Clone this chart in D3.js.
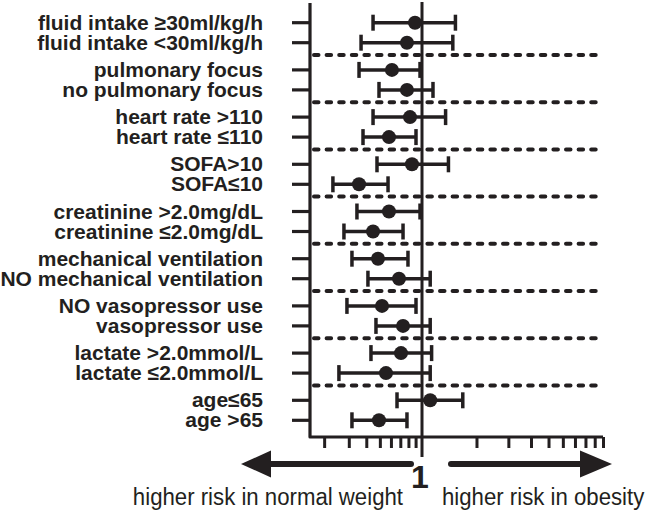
<!DOCTYPE html>
<html>
<head>
<meta charset="utf-8">
<script src="https://cdn.jsdelivr.net/npm/d3@7"></script>
<style>
  body { margin: 0; background: #fff; }
  svg { display: block; font-family: Arial, "Liberation Sans", Helvetica, sans-serif; }
</style>
</head>
<body>
<svg width="645" height="512"></svg>
<script>
// subgroups, two per group, top to bottom
const labels = [
  "fluid intake ≥30ml/kg/h", "fluid intake <30ml/kg/h",
  "pulmonary focus", "no pulmonary focus",
  "heart rate >110", "heart rate ≤110",
  "SOFA>10", "SOFA≤10",
  "creatinine >2.0mg/dL", "creatinine ≤2.0mg/dL",
  "mechanical ventilation", "NO mechanical ventilation",
  "NO vasopressor use", "vasopressor use",
  "lactate >2.0mmol/L", "lactate ≤2.0mmol/L",
  "age≤65", "age >65"
];
// odds ratio and 95% CI
const estimate = [0.891, 0.781, 0.61, 0.781, 0.821, 0.581, 0.848, 0.355, 0.581,
  0.447, 0.485, 0.685, 0.518, 0.732, 0.708, 0.553, 1.11, 0.493];
const lower = [0.447, 0.367, 0.355, 0.493, 0.447, 0.379, 0.477, 0.231, 0.343,
  0.277, 0.316, 0.411, 0.291, 0.469, 0.432, 0.255, 0.663, 0.316];
const upper = [1.53, 1.48, 0.968, 1.15, 1.35, 0.906, 1.40, 0.572, 0.968,
  0.732, 0.794, 1.11, 0.906, 1.11, 1.13, 1.11, 1.68, 0.781];
const minorTicks = [0.2, 0.3, 0.4, 0.5, 0.6, 0.7, 0.8, 0.9, 2, 3, 4, 5, 6, 7, 8, 9, 10];

const svg = d3.select("svg");
const ink = "#231f20";

// log scale, left and right decades drawn at different widths
const x = d3.scaleLog().domain([0.1, 1, 10]).range([282, 422, 603]);
const axisLeftX = 310, axisBottomY = 437;

// rows: 9 groups of 2
const yGroup = d3.scaleLinear().domain([0, 8]).range([22.7, 400.3]);
const rows = labels.map((name, i) => ({
  name, est: estimate[i], lo: lower[i], hi: upper[i],
  y: yGroup(Math.floor(i / 2)) + (i % 2) * 20
}));

// dashed separators between groups
svg.append("g")
  .selectAll("line")
  .data(d3.range(8))
  .join("line")
  .attr("x1", axisLeftX + 4).attr("x2", 597)
  .attr("y1", g => yGroup(g) + 32.3).attr("y2", g => yGroup(g) + 32.3)
  .attr("stroke", ink).attr("stroke-width", 4)
  .attr("stroke-linecap", "round")
  .attr("stroke-dasharray", "4.5,8.1");

// reference line at 1
svg.append("line")
  .attr("x1", x(1)).attr("x2", x(1))
  .attr("y1", 2).attr("y2", 457)
  .attr("stroke", ink).attr("stroke-width", 3);

// bottom axis minor ticks
const xAxis = d3.axisBottom(x).tickValues(minorTicks).tickFormat("").tickSize(11);
const ga = svg.append("g").attr("transform", `translate(0,${axisBottomY})`).call(xAxis);
ga.select(".domain").remove();
ga.selectAll(".tick line").attr("stroke", ink).attr("stroke-width", 3);

// axes frame
svg.append("path")
  .attr("d", `M${axisLeftX},3 V${axisBottomY} H${x(10)}`)
  .attr("fill", "none").attr("stroke", ink).attr("stroke-width", 3.2)
  .attr("stroke-linejoin", "round");

// row ticks on the left axis
svg.append("g")
  .selectAll("line")
  .data(rows)
  .join("line")
  .attr("x1", 292).attr("x2", axisLeftX)
  .attr("y1", d => d.y).attr("y2", d => d.y)
  .attr("stroke", ink).attr("stroke-width", 3.2);

// labels
svg.append("g")
  .selectAll("text")
  .data(rows)
  .join("text")
  .attr("x", 263).attr("y", d => d.y)
  .attr("dy", "0.34em")
  .attr("text-anchor", "end")
  .attr("font-size", "21px").attr("font-weight", "bold")
  .attr("fill", ink)
  .text(d => d.name);

// error bars
const bars = svg.append("g").selectAll("g").data(rows).join("g");
bars.append("line")
  .attr("x1", d => x(d.lo)).attr("x2", d => x(d.hi))
  .attr("y1", d => d.y).attr("y2", d => d.y)
  .attr("stroke", ink).attr("stroke-width", 3.5);
bars.selectAll(".cap")
  .data(d => [d.lo, d.hi].map(v => ({ v, y: d.y })))
  .join("line")
  .attr("class", "cap")
  .attr("x1", c => x(c.v)).attr("x2", c => x(c.v))
  .attr("y1", c => c.y - 8).attr("y2", c => c.y + 8)
  .attr("stroke", ink).attr("stroke-width", 3.5);
bars.append("circle")
  .attr("cx", d => x(d.est)).attr("cy", d => d.y)
  .attr("r", 7).attr("fill", ink);

// arrows
const arrowY = 464;
svg.append("line")
  .attr("x1", 262).attr("x2", 411).attr("y1", arrowY).attr("y2", arrowY)
  .attr("stroke", ink).attr("stroke-width", 6).attr("stroke-linecap", "round");
svg.append("path")
  .attr("d", `M241,${arrowY} L271,${arrowY - 13.5} L271,${arrowY + 13.5} Z`)
  .attr("fill", ink);
svg.append("line")
  .attr("x1", 451).attr("x2", 590).attr("y1", arrowY).attr("y2", arrowY)
  .attr("stroke", ink).attr("stroke-width", 6).attr("stroke-linecap", "round");
svg.append("path")
  .attr("d", `M612,${arrowY} L580,${arrowY - 13.5} L580,${arrowY + 13.5} Z`)
  .attr("fill", ink);

// "1" under the reference line
svg.append("text")
  .attr("x", x(1) - 2).attr("y", 488)
  .attr("text-anchor", "middle")
  .attr("font-size", "32px").attr("font-weight", "bold")
  .attr("fill", ink)
  .text("1");

svg.append("text")
  .attr("transform", "translate(403,505) scale(1,1.1)")
  .attr("text-anchor", "end")
  .attr("font-size", "22.2px").attr("fill", ink)
  .text("higher risk in normal weight");
svg.append("text")
  .attr("transform", "translate(442,505) scale(1,1.1)")
  .attr("font-size", "22.2px").attr("fill", ink)
  .text("higher risk in obesity");
</script>
</body>
</html>
